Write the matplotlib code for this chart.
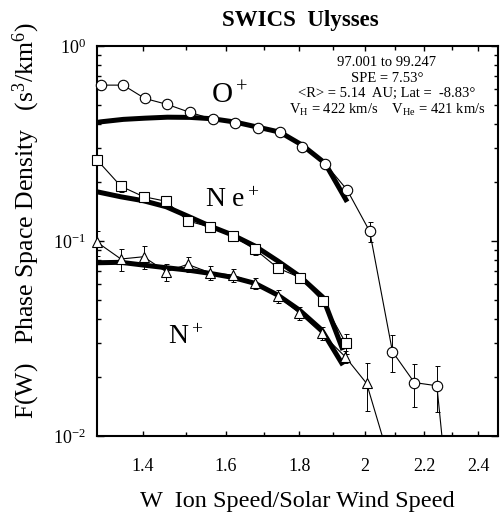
import numpy as np
import matplotlib
matplotlib.use('Agg')
import matplotlib.pyplot as plt
from matplotlib.ticker import FixedLocator, FixedFormatter, NullFormatter, LogLocator

plt.rcParams['font.family'] = ['Liberation Serif', 'DejaVu Serif']
plt.rcParams['mathtext.fontset'] = 'custom'
plt.rcParams['mathtext.rm'] = 'Liberation Serif'
plt.rcParams['mathtext.it'] = 'Liberation Serif:italic'
plt.rcParams['mathtext.bf'] = 'Liberation Serif:bold'

# --- measured points (W = ion speed / solar wind speed, F(W) in s^3/km^6)
o_w = [1.308, 1.356, 1.404, 1.456, 1.510, 1.566, 1.623, 1.684, 1.745, 1.808,
       1.876, 1.944, 2.016, 2.091, 2.166, 2.246]
o_f = [0.631, 0.631, 0.539, 0.502, 0.457, 0.422, 0.404, 0.380, 0.364, 0.305,
       0.250, 0.183, 0.112, 0.0271, 0.0188, 0.0181]
o_err = [0, 0, 0, 0, 0, 0, 0, 0, 0, 0, 0, 0.04, 0.12, 0.21, 0.25, 0.27]
o_next_w, o_next_f = 2.328, 0.0013   # next bin, below plotted range

ne_w = [1.3006, 1.351, 1.401, 1.453, 1.504, 1.559, 1.617, 1.676, 1.739, 1.802,
        1.869, 1.940]
ne_f = [0.260, 0.191, 0.169, 0.160, 0.127, 0.118, 0.106, 0.0907, 0.0727, 0.0650,
        0.0492, 0.0299]
ne_err = [0, 0.07, 0.06, 0.06, 0.06, 0.06, 0.06, 0.06, 0.06, 0.06, 0.06, 0.12]

n_w = [1.3006, 1.351, 1.401, 1.453, 1.504, 1.559, 1.617, 1.676, 1.739, 1.800,
       1.866, 1.938, 2.006]
n_f = [0.0985, 0.0809, 0.0831, 0.0696, 0.0760, 0.0688, 0.0669, 0.0607, 0.0522,
       0.0427, 0.0336, 0.0255, 0.0186]
n_err = [0.15, 0.13, 0.13, 0.10, 0.09, 0.08, 0.08, 0.07, 0.08, 0.08, 0.08, 0.07, 0.28]
n_next_w, n_next_f = 2.080, 0.0076

# --- model fits (thick curves)
o_fit_w = [1.300, 1.308, 1.356, 1.404, 1.456, 1.510, 1.566, 1.623, 1.684, 1.745,
           1.808, 1.876, 1.944]
o_fit_f = [0.406, 0.409, 0.421, 0.427, 0.432, 0.431, 0.424, 0.408, 0.384, 0.362,
           0.311, 0.251, 0.159]
ne_fit_w = [1.300, 1.351, 1.401, 1.453, 1.504, 1.559, 1.617, 1.676, 1.739, 1.802,
            1.869, 1.931]
ne_fit_f = [0.179, 0.1687, 0.161, 0.150, 0.1343, 0.1194, 0.1074, 0.0943, 0.0790,
            0.0658, 0.0516, 0.0276]
n_fit_w = [1.300, 1.351, 1.401, 1.453, 1.504, 1.559, 1.617, 1.676, 1.739, 1.800,
           1.866, 1.931]
n_fit_f = [0.0774, 0.0778, 0.0753, 0.0730, 0.0710, 0.0683, 0.0651, 0.0607, 0.0528,
           0.0443, 0.0350, 0.0231]

xticks = [1.4, 1.6, 1.8, 2.0, 2.2, 2.4]
xticklabels = ['1.4', '1.6', '1.8', '2', '2.2', '2.4']
xminor = [1.5, 1.7, 1.9, 2.1, 2.3]

info_lines = ['97.001 to 99.247',
              'SPE = 7.53°',
              '<R> = 5.14  AU; Lat =  -8.83°',
              r'V$_{\rm H}$ = 422 km/s    V$_{\rm He}$ = 421 km/s']

fig = plt.figure(figsize=(5, 5.15), dpi=100)
ax = fig.add_axes([0.194, 0.1534, 0.802, 0.757])
ax.set_xscale('log')
ax.set_yscale('log')


def series(w, f, err, marker, ms, next_pt=None):
    w = np.array(w)
    f = np.array(f)
    err = np.array(err)
    lw_x, lw_y = list(w), list(f)
    if next_pt is not None:
        lw_x.append(next_pt[0])
        lw_y.append(next_pt[1])
    ax.plot(lw_x, lw_y, color='black', lw=0.8, zorder=3)
    m = err > 0
    ax.errorbar(w[m], f[m], yerr=f[m] * err[m], fmt='none', ecolor='black',
                elinewidth=0.7, capsize=1.8, capthick=0.7, zorder=3)
    ax.plot(w, f, linestyle='none', marker=marker, ms=ms, mfc='white',
            mec='black', mew=0.8, zorder=5, clip_on=False)


for fw, ff in [(o_fit_w, o_fit_f), (ne_fit_w, ne_fit_f), (n_fit_w, n_fit_f)]:
    ax.plot(fw, ff, color='black', lw=3.6, solid_capstyle='butt', zorder=4)

series(o_w, o_f, o_err, 'o', 7.5, (o_next_w, o_next_f))
series(ne_w, ne_f, ne_err, 's', 6.8)
series(n_w, n_f, n_err, '^', 7.5, (n_next_w, n_next_f))

ax.set_xlim(1.3, 2.478)
ax.set_ylim(1e-2, 1)

ax.xaxis.set_major_locator(FixedLocator(xticks))
ax.xaxis.set_major_formatter(FixedFormatter(xticklabels))
ax.xaxis.set_minor_locator(FixedLocator(xminor))
ax.xaxis.set_minor_formatter(NullFormatter())
ax.yaxis.set_minor_locator(LogLocator(base=10, subs=np.arange(2, 10)))
ax.yaxis.set_minor_formatter(NullFormatter())

ax.tick_params(which='both', direction='in', top=True, right=True, width=1.0)
ax.tick_params(which='major', length=5, labelsize=13)
ax.tick_params(which='minor', length=3)
ax.tick_params(axis='x', which='major', length=3.5, pad=16)
ax.tick_params(axis='y', which='major', pad=8)
for s in ax.spines.values():
    s.set_linewidth(1.5)

ax.text(0.506, 1.065, 'SWICS  Ulysses', transform=ax.transAxes, ha='center',
        va='center', fontsize=16.5, fontweight='bold')
ax.set_xlabel('W  Ion Speed/Solar Wind Speed', fontsize=17.5)
ax.xaxis.set_label_coords(0.5, -0.169)
ax.xaxis.label.set_va('center')
ax.set_ylabel(r'F(W)   Phase Space Density   (s$^3$/km$^6$)', fontsize=18.5)
ax.yaxis.set_label_coords(-0.177, 0.551)
ax.yaxis.label.set_va('center')

ax.text(1.5617, 0.554, r'O$^+$', fontsize=21, va='center', ha='left')
ax.text(1.5468, 0.162, r'N e$^+$', fontsize=20, va='center', ha='left')
ax.text(1.4573, 0.0322, r'N$^+$', fontsize=20, va='center', ha='left')

for yy, line in zip([0.959, 0.918, 0.879, 0.836], info_lines):
    ax.text(0.723, yy, line, transform=ax.transAxes, ha='center', va='center',
            fontsize=10.5)

fig.savefig('out.png', dpi=100)
